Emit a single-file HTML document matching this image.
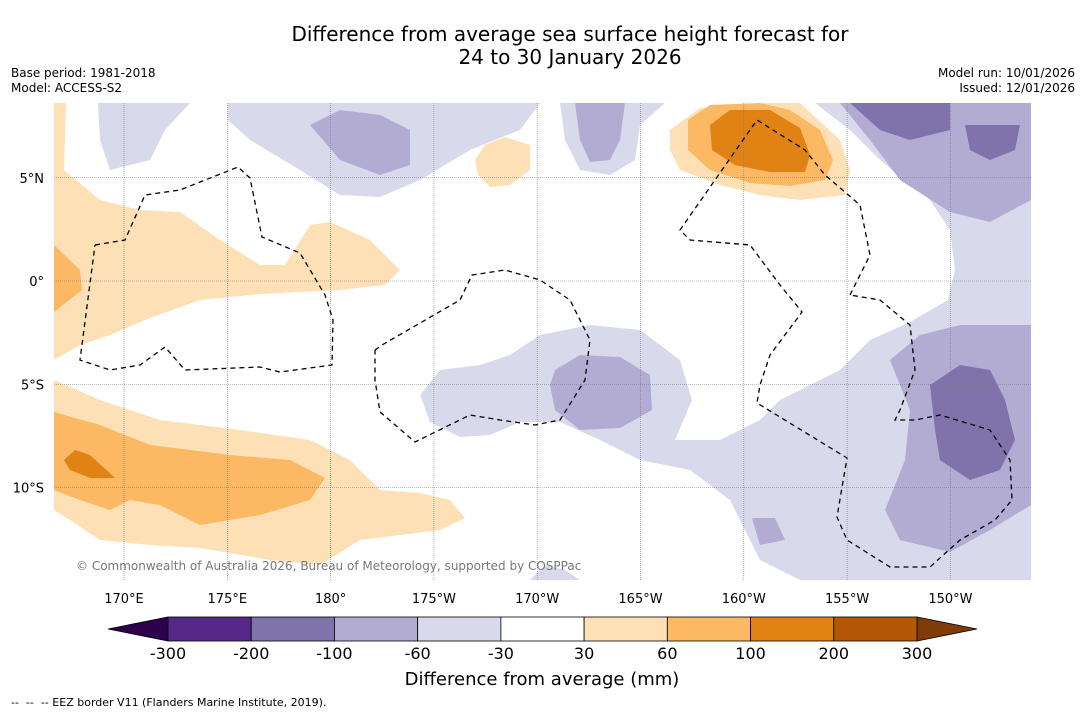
<!DOCTYPE html>
<html><head><meta charset="utf-8">
<style>
body{margin:0;background:#fff;width:1085px;height:713px;overflow:hidden;font-family:"DejaVu Sans","Liberation Sans",sans-serif;}
svg{position:absolute;left:0;top:0}
</style></head>
<body>
<svg id="s" width="1085" height="713" font-family="DejaVu Sans, Liberation Sans, sans-serif">
<text x="570" y="41" text-anchor="middle" font-size="20">Difference from average sea surface height forecast for</text>
<text x="570" y="64" text-anchor="middle" font-size="20">24 to 30 January 2026</text>
<text x="11" y="77" font-size="12">Base period: 1981-2018</text>
<text x="11" y="92" font-size="12">Model: ACCESS-S2</text>
<text x="1075" y="77" font-size="12" text-anchor="end">Model run: 10/01/2026</text>
<text x="1075" y="92" font-size="12" text-anchor="end">Issued: 12/01/2026</text>
<clipPath id="mc"><rect x="54" y="103" width="977" height="477"/></clipPath>
<g id="map" clip-path="url(#mc)"></g>
<g id="axes"></g>
<g id="cbar"></g>
<text x="542" y="685" text-anchor="middle" font-size="18">Difference from average (mm)</text>
<text x="11" y="706" font-size="11">-- &#160;-- &#160;-- EEZ border V11 (Flanders Marine Institute, 2019).</text>
</svg>
<script>
const levels=[-300,-200,-100,-60,-30,30,60,100,200,300];
const colors=["#542788","#8073ac","#b2abd2","#d8daeb","#ffffff","#fee0b6","#fdb863","#e08214","#b35806"];
const extColors=["#2d004b","#7f3b08"];
const lonTicks=["170°E","175°E","180°","175°W","170°W","165°W","160°W","155°W","150°W"];
const lonVals=[170,175,180,185,190,195,200,205,210];
const latTicks=["5°N","0°","5°S","10°S"];
const latVals=[5,0,-5,-10];
const NS="http://www.w3.org/2000/svg";
const xL=v=>124+(v-170)*20.66, yL=v=>281-v*20.65;
function mk(t,a,p){const e=document.createElementNS(NS,t);for(const k in a)e.setAttribute(k,a[k]);p.appendChild(e);return e;}
const map=document.getElementById('map');
const shapes=[
[3,"98,103 190,103 165,130 150,160 110,170 100,140"],
[3,"228,103 540,103 520,130 470,150 420,180 380,197 340,195 300,170 250,140 228,120"],
[3,"560,103 665,103 640,125 635,160 610,175 580,170 565,140"],
[3,"815,103 1031,103 1031,580 800,580 760,560 730,500 690,470 640,460 600,440 560,422 520,422 490,435 460,437 430,422 420,395 440,370 480,365 510,355 540,335 590,325 640,330 680,360 692,400 675,440 720,440 760,420 780,400 840,370 870,340 910,322 948,300 955,270 950,230 930,200 880,160 850,130"],
[3,"530,580 545,565 565,570 580,580"],
[2,"310,125 340,110 380,115 410,130 410,165 380,175 340,160"],
[2,"575,103 625,103 620,140 610,160 590,162 580,140"],
[2,"840,103 1031,103 1031,200 990,222 950,212 900,180 870,140"],
[2,"555,370 580,355 620,357 650,375 652,410 620,428 580,430 555,410 550,385"],
[2,"890,360 920,335 960,325 1031,325 1031,505 990,530 950,552 900,540 885,510 905,460 910,410"],
[2,"752,518 775,518 785,540 760,545"],
[1,"850,103 950,103 950,130 910,140 880,130"],
[1,"965,125 1020,125 1015,150 990,160 970,150"],
[1,"930,385 960,365 990,370 1005,400 1015,440 1000,470 970,480 940,460 935,430"],
[5,"54,103 66,103 64,170 100,200 140,210 180,212 220,240 260,265 285,265 310,225 330,222 370,240 400,270 385,285 340,290 300,292 260,294 200,300 150,318 110,335 80,345 54,360"],
[5,"475,160 485,145 505,137 530,145 530,170 510,185 490,187 478,175"],
[5,"670,130 700,108 760,103 800,103 840,140 850,170 845,195 800,200 760,195 720,185 680,170 670,150"],
[5,"54,380 100,400 160,420 240,430 310,440 350,460 380,490 420,493 450,500 465,518 440,530 400,535 360,540 320,565 270,560 200,548 150,545 100,540 70,520 54,510"],
[6,"54,245 80,270 82,290 54,312"],
[6,"54,412 100,425 150,445 230,455 290,460 325,478 310,500 260,515 200,525 180,515 160,505 130,500 110,510 80,500 54,490"],
[6,"688,120 710,105 760,103 790,110 820,130 833,160 825,180 790,186 750,183 710,170 688,150"],
[7,"64,460 75,450 90,455 115,478 90,478 70,470"],
[7,"710,125 730,110 770,110 800,128 810,155 805,172 770,172 735,165 712,150"]
];
shapes.forEach((s,i)=>{const p=mk('polygon',{points:s[1],fill:colors[s[0]]},map);

});
lonVals.forEach(v=>{const l=mk('line',{x1:xL(v),x2:xL(v),y1:103,y2:580,stroke:'#777','stroke-width':0.6,'stroke-dasharray':'1,1'},map);
});
latVals.forEach(v=>{const l=mk('line',{x1:54,x2:1031,y1:yL(v),y2:yL(v),stroke:'#777','stroke-width':0.6,'stroke-dasharray':'1,1'},map);
});
const eez=["95,245 125,240 145,195 180,190 238,167 250,178 262,237 300,253 325,295 333,320 332,365 280,372 260,367 185,370 165,347 140,365 110,370 80,360 95,245",
"375,350 382,345 460,300 472,275 505,270 540,280 570,300 590,340 585,380 560,420 535,425 500,420 470,415 415,442 380,412 375,380 375,350",
"850,295 870,255 860,205 825,175 805,150 757,120 680,230 690,240 750,245 780,285 802,312 770,355 760,385 757,403 847,458 837,517 847,540 890,567 930,567 960,540 995,520 1012,500 1010,460 990,430 940,415 915,420 895,420 900,410 915,370 910,325 880,300 850,295"];
eez.forEach(s=>{const p=mk('polyline',{points:s,fill:'none',stroke:'#000','stroke-width':1.3,'stroke-dasharray':'5,4'},map);
});
const cr=mk('text',{x:76,y:570,'font-size':12,fill:'#777'},map);cr.textContent='© Commonwealth of Australia 2026, Bureau of Meteorology, supported by COSPPac';

const ax=document.getElementById('axes');
lonTicks.forEach((t,i)=>{const e=mk('text',{x:xL(lonVals[i]),y:603,'font-size':13,'text-anchor':'middle'},ax);e.textContent=t;
});
latTicks.forEach((t,i)=>{const e=mk('text',{x:44,y:yL(latVals[i])+5,'font-size':13,'text-anchor':'end'},ax);e.textContent=t;
});
const cb=document.getElementById('cbar');
const cx0=168,cx1=917,cy=617,ch=24,bw=(cx1-cx0)/colors.length;
const lt=mk('polygon',{points:`${cx0},${cy} ${cx0},${cy+ch} 108,${cy+ch/2}`,fill:extColors[0],stroke:'#000','stroke-width':0.8},cb);

const rt=mk('polygon',{points:`${cx1},${cy} ${cx1},${cy+ch} 977,${cy+ch/2}`,fill:extColors[1],stroke:'#000','stroke-width':0.8},cb);

colors.forEach((c,i)=>{const r=mk('rect',{x:cx0+i*bw,y:cy,width:bw,height:ch,fill:c,stroke:'#000','stroke-width':0.8},cb);
});
levels.forEach((v,i)=>{const t=mk('text',{x:cx0+i*bw,y:659,'font-size':16,'text-anchor':'middle'},cb);t.textContent=v;
});
</script>
</body></html>
